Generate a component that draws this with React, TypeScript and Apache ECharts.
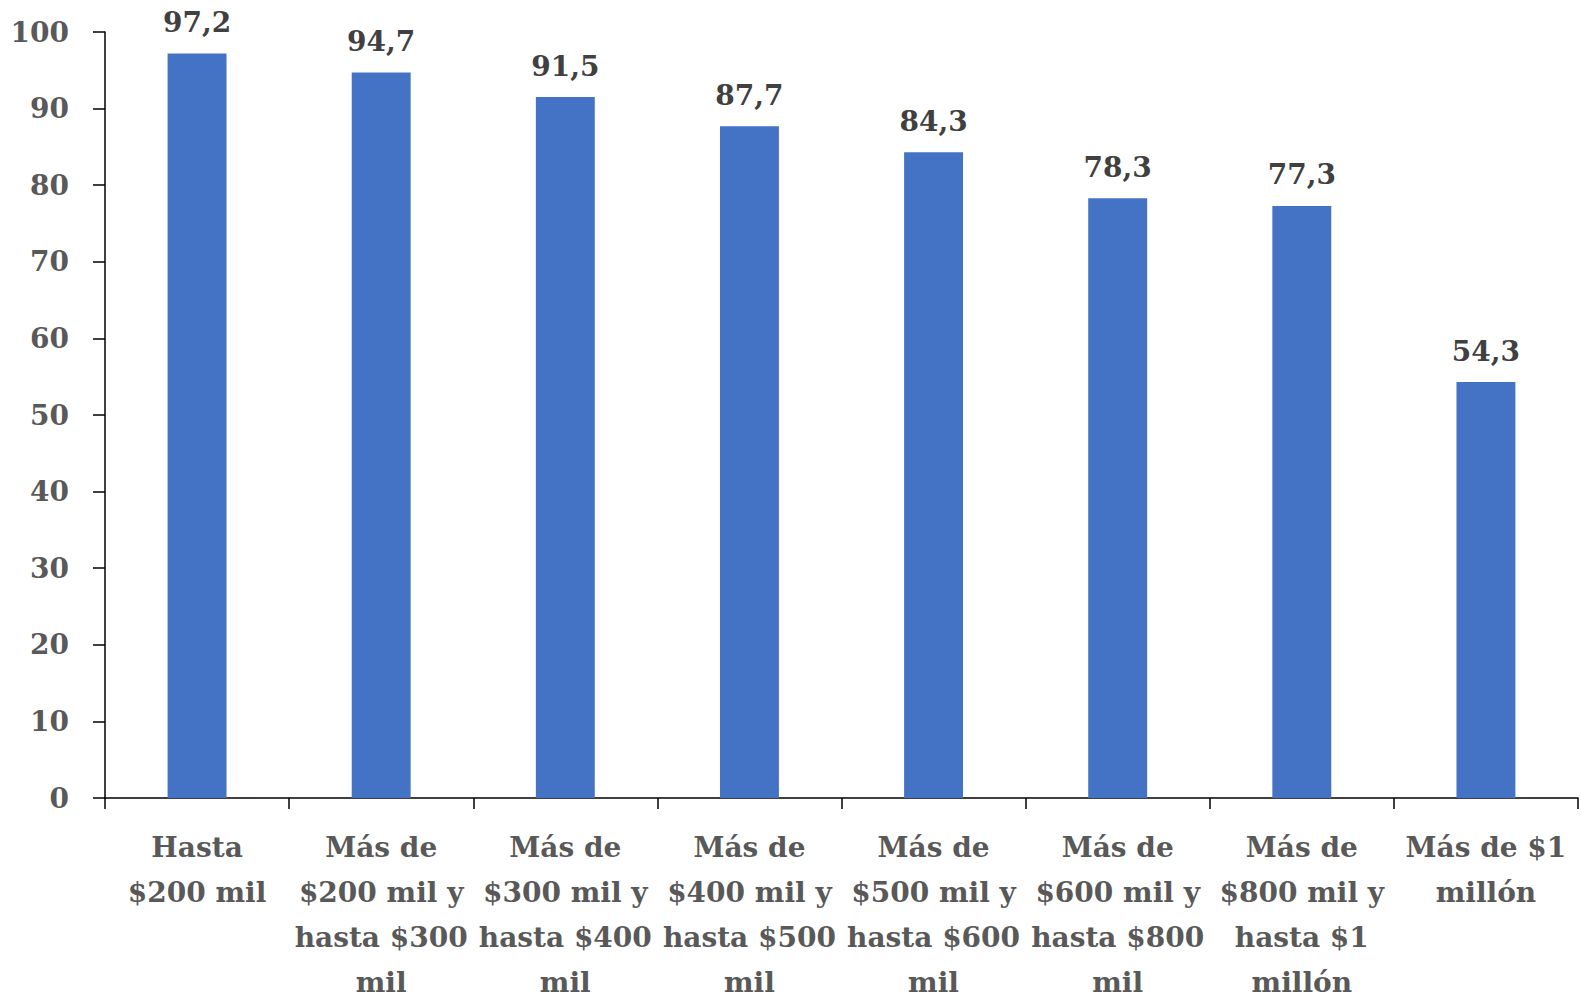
import React, { useEffect, useRef } from "react";
import * as echarts from "echarts";

const categories: string[] = [
  "Hasta\n$200 mil",
  "Más de\n$200 mil y\nhasta $300\nmil",
  "Más de\n$300 mil y\nhasta $400\nmil",
  "Más de\n$400 mil y\nhasta $500\nmil",
  "Más de\n$500 mil y\nhasta $600\nmil",
  "Más de\n$600 mil y\nhasta $800\nmil",
  "Más de\n$800 mil y\nhasta $1\nmillón",
  "Más de $1\nmillón",
];

const values: number[] = [97.2, 94.7, 91.5, 87.7, 84.3, 78.3, 77.3, 54.3];

const FONT = "'DejaVu Serif', serif";

export default function App() {
  const ref = useRef<HTMLDivElement>(null);

  useEffect(() => {
    document.body.style.margin = "0";
    if (!ref.current) return;
    const chart = echarts.init(ref.current, undefined, { renderer: "svg" });
    chart.setOption({
      animation: false,
      backgroundColor: "#ffffff",
      grid: {
        left: 105,
        right: 3,
        top: 32,
        bottom: 207,
        containLabel: false,
        outerBoundsMode: "none",
      },
      xAxis: {
        type: "category",
        data: categories,
        axisLine: { show: true, lineStyle: { color: "#000000", width: 1.5 } },
        axisTick: { show: true, length: 11, lineStyle: { color: "#000000", width: 1.5 } },
        axisLabel: {
          interval: 0,
          margin: 27,
          color: "#595959",
          fontFamily: FONT,
          fontWeight: "bold",
          fontSize: 28,
          lineHeight: 45,
          align: "center",
        },
      },
      yAxis: {
        type: "value",
        min: 0,
        max: 100,
        interval: 10,
        axisLine: { show: true, lineStyle: { color: "#000000", width: 1.5 } },
        axisTick: { show: true, length: 12, lineStyle: { color: "#000000", width: 1.5 } },
        splitLine: { show: false },
        axisLabel: {
          margin: 36,
          color: "#595959",
          fontFamily: FONT,
          fontWeight: "bold",
          fontSize: 28,
        },
      },
      series: [
        {
          type: "bar",
          data: values,
          barWidth: "32%",
          itemStyle: { color: "#4472C4" },
          label: {
            show: true,
            position: "top",
            distance: 17,
            color: "#404040",
            fontFamily: FONT,
            fontWeight: "bold",
            fontSize: 28,
            formatter: (p: any) => String(p.value.toFixed(1)).replace(".", ","),
          },
        },
      ],
    });
    return () => chart.dispose();
  }, []);

  return <div ref={ref} style={{ width: 1581, height: 1005 }} />;
}
